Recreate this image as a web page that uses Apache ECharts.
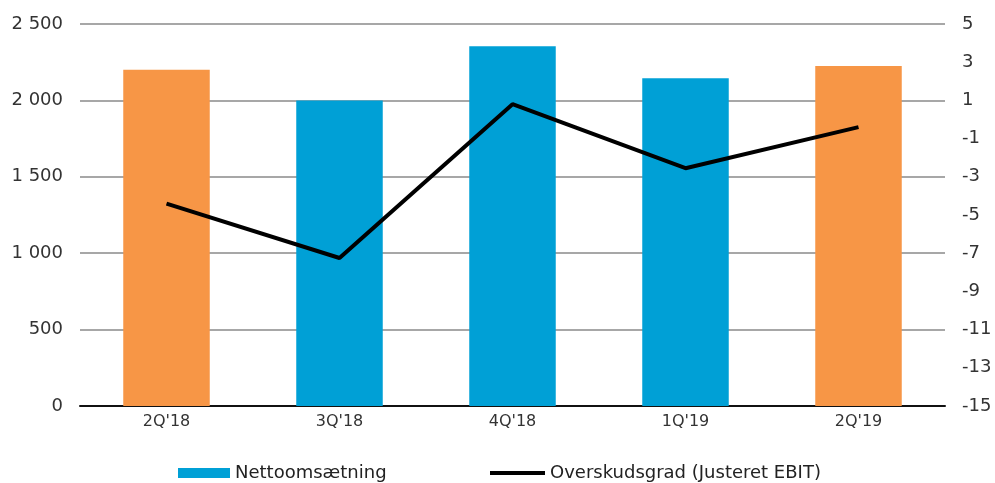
<!DOCTYPE html>
<html>
<head>
<meta charset="utf-8">
<script src="https://cdn.jsdelivr.net/npm/echarts@6/dist/echarts.min.js"></script>
<style>
  html, body { margin: 0; padding: 0; background: #fff; }
  #chart { width: 995px; height: 483px; }
</style>
</head>
<body>
<div id="chart"></div>
<script>
const quarters = ["2Q'18", "3Q'18", "4Q'18", "1Q'19", "2Q'19"]
const revenue = [2200, 2000, 2355, 2145, 2225]
const margin = [-4.4, -7.25, 0.8, -2.55, -0.4]
const barColors = ['#F79646', '#00A0D6', '#00A0D6', '#00A0D6', '#F79646']

const chart = echarts.init(document.getElementById('chart'))
const font = 'DejaVu Sans, Verdana, sans-serif'

const option = {
  animation: false,
  textStyle: { fontFamily: font },
  grid: { left: 80, right: 50, top: 24, bottom: 77 },
  legend: [
    {
      left: 178,
      top: 464,
      padding: 0,
      itemWidth: 52,
      itemHeight: 10,
      itemGap: 0,
      textStyle: { fontSize: 18, color: '#222', fontFamily: font },
      data: [{ name: 'Nettoomsætning', icon: 'rect' }]
    },
    {
      left: 490,
      top: 464,
      padding: 0,
      itemWidth: 55,
      itemHeight: 4,
      itemGap: 0,
      textStyle: { fontSize: 18, color: '#222', fontFamily: font },
      data: [{ name: 'Overskudsgrad (Justeret EBIT)', icon: 'rect', itemStyle: { color: '#000' } }]
    }
  ],
  xAxis: {
    type: 'category',
    data: quarters,
    axisLine: { lineStyle: { color: '#111', width: 2 } },
    axisTick: { show: false },
    axisLabel: { color: '#333', fontSize: 16, margin: 8 }
  },
  yAxis: [
    {
      type: 'value',
      min: 0,
      max: 2500,
      interval: 500,
      axisLine: { show: false },
      axisTick: { show: false },
      splitLine: { lineStyle: { color: '#8a8a8a', width: 1.5 } },
      axisLabel: {
        color: '#333',
        fontSize: 18,
        margin: 17,
        formatter: v => String(v).replace(/\B(?=(\d{3})+(?!\d))/g, ' ')
      }
    },
    {
      type: 'value',
      min: -15,
      max: 5,
      interval: 2,
      axisLine: { show: false },
      axisTick: { show: false },
      splitLine: { show: false },
      axisLabel: { color: '#333', fontSize: 18, margin: 17 }
    }
  ],
  series: [
    {
      name: 'Nettoomsætning',
      type: 'bar',
      barWidth: '50%',
      itemStyle: { color: '#00A0D6' },
      data: revenue.map((v, i) => ({ value: v, itemStyle: { color: barColors[i] } }))
    },
    {
      name: 'Overskudsgrad (Justeret EBIT)',
      type: 'line',
      yAxisIndex: 1,
      symbol: 'none',
      lineStyle: { color: '#000', width: 4 },
      itemStyle: { color: '#000' },
      data: margin
    }
  ]
}

chart.setOption(option)
</script>
</body>
</html>
